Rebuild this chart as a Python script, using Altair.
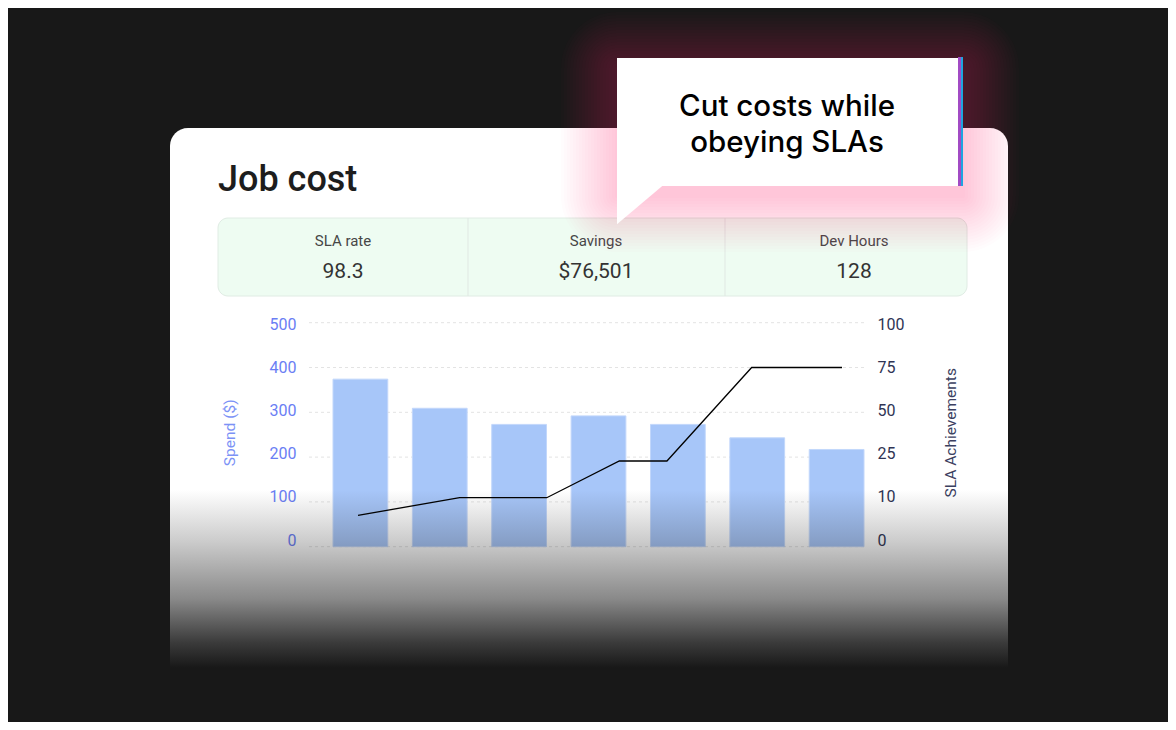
import altair as alt
import pandas as pd

# ---------------- data ----------------
periods = ["W1", "W2", "W3", "W4", "W5", "W6", "W7"]
spend = [374, 309, 273, 292, 273, 243, 217]
sla_pos = [0, 1.26, 2.34, 3.24, 3.83, 4.88, 6.0]
sla_values = [7, 11.4, 11.4, 23.7, 23.7, 75, 75]
spend_ticks = [0, 100, 200, 300, 400, 500]
sla_ticks = [0, 10, 25, 50, 75, 100]
kpi_labels = ["SLA rate", "Savings", "Dev Hours"]
kpi_values = ["98.3", "$76,501", "128"]
title_text = "Job cost"
callout_lines = ["Cut costs while", "obeying SLAs"]
spend_title = "Spend ($)"
sla_title = "SLA Achievements"

# ---------------- layout (card-relative pixels) ----------------
W, H = 838, 572
Y0, Y1 = 418.7, 194.7          # plotted bars / line range
L0, L1 = 412.0, 196.6          # where the axis labels sit
sla_range = [Y0 - (Y0 - Y1) * i / 5 for i in range(6)]
sla_label_range = [L0 - (L0 - L1) * i / 5 for i in range(6)]
kpi_x = [173, 426, 684]
divider_x = [298, 555]
glow_spread = list(range(2, 58, 3))

one = pd.DataFrame({"k": [0]})
bars_df = pd.DataFrame({"period": periods, "spend": spend})
line_df = pd.DataFrame({"pos": sla_pos, "sla": sla_values})
grid_df = pd.DataFrame({"v": spend_ticks})
sla_tick_df = pd.DataFrame({"v": sla_ticks})

left_scale = alt.Scale(domain=[0, 500], range=[Y0, Y1], nice=False)

layers = []

# title
layers.append(alt.Chart(one).mark_text(font="Roboto", fontSize=36, fontWeight=500, color="#1d1d1d",
                                        align="left", baseline="alphabetic").encode(
    x=alt.value(48), y=alt.value(63), text=alt.value(title_text)))

# KPI panel
layers.append(alt.Chart(one).mark_rect(fill="#eefcf2", stroke="#e0ece4", strokeWidth=1,
                                        cornerRadius=10).encode(
    x=alt.value(48), x2=alt.value(797), y=alt.value(90), y2=alt.value(168)))
for dx in divider_x:
    layers.append(alt.Chart(one).mark_rule(color="#e0e8e3", strokeWidth=1).encode(
        x=alt.value(dx), y=alt.value(90), y2=alt.value(168)))
for i in range(3):
    layers.append(alt.Chart(one).mark_text(font="Roboto", fontSize=15, color="#474747",
                                            align="center", baseline="alphabetic").encode(
        x=alt.value(kpi_x[i]), y=alt.value(118), text=alt.value(kpi_labels[i])))
    layers.append(alt.Chart(one).mark_text(font="Roboto", fontSize=21, color="#333333",
                                            align="center", baseline="alphabetic").encode(
        x=alt.value(kpi_x[i]), y=alt.value(150), text=alt.value(kpi_values[i])))

# pink glow behind the callout (stacked soft rectangles)
for e in glow_spread:
    layers.append(alt.Chart(one).mark_rect(fill="rgb(255,70,145)", fillOpacity=0.016,
                                            cornerRadius=e).encode(
        x=alt.value(447 - e), x2=alt.value(793 + e),
        y=alt.value(-70 - e + 10), y2=alt.value(58 + e + 10)))

# callout
layers.append(alt.Chart(one).mark_rect(fill="white").encode(
    x=alt.value(447), x2=alt.value(788), y=alt.value(-70), y2=alt.value(58)))
layers.append(alt.Chart(one).mark_point(shape="M-1,-0.85L0.96,-0.85L-1,0.8Z", filled=True,
                                         fill="white", opacity=1, strokeWidth=0, size=2304).encode(
    x=alt.value(471), y=alt.value(77)))
layers.append(alt.Chart(one).mark_rect(fill="#a24bc4").encode(
    x=alt.value(788), x2=alt.value(791), y=alt.value(-71), y2=alt.value(58)))
layers.append(alt.Chart(one).mark_rect(fill="#1fa4df").encode(
    x=alt.value(791), x2=alt.value(793), y=alt.value(-71), y2=alt.value(58)))
layers.append(alt.Chart(one).mark_text(font="Inter", fontSize=29.5, fontWeight=500,
                                        color="#000000", align="center", lineHeight=35.5,
                                        baseline="alphabetic").encode(
    x=alt.value(617), y=alt.value(-12), text=alt.value(callout_lines)))

# grid lines
layers.append(alt.Chart(grid_df).mark_rule(color="#e3e3e3", strokeDash=[3, 3], strokeWidth=1).encode(
    y=alt.Y("v:Q", scale=left_scale, axis=None),
    x=alt.value(139), x2=alt.value(694)))

# left axis carrier (invisible)
layers.append(alt.Chart(grid_df).mark_rule(opacity=0).encode(
    y=alt.Y("v:Q", scale=alt.Scale(domain=[0, 500], range=[L0, L1], nice=False),
            axis=alt.Axis(orient="left", values=spend_ticks, offset=-139, domain=False,
                          ticks=False, grid=False, labelPadding=13, labelColor="#6a7ef4",
                          labelFont="Roboto", labelFontSize=16, title=spend_title,
                          titleColor="#7c92f6", titleFont="Roboto", titleFontSize=15.5,
                          titleFontWeight="normal", titleX=-72, titleBaseline="bottom")),
    x=alt.value(139), x2=alt.value(140)))

# right axis carrier (invisible)
layers.append(alt.Chart(sla_tick_df).mark_rule(opacity=0).encode(
    y=alt.Y("v:Q", scale=alt.Scale(domain=sla_ticks, range=sla_label_range, nice=False),
            axis=alt.Axis(orient="right", values=sla_ticks, offset=-144, domain=False,
                          ticks=False, grid=False, labelPadding=13, labelColor="#2f3454",
                          labelFont="Roboto", labelFontSize=16, title=sla_title,
                          titleColor="#3b4060", titleFont="Roboto", titleFontSize=15.5,
                          titleFontWeight="normal", titleAngle=270, titleX=94,
                          titleBaseline="bottom")),
    x=alt.value(693), x2=alt.value(694)))

# bars
layers.append(alt.Chart(bars_df).mark_bar(color="#a7c6f9", stroke="#c2d7fb", strokeWidth=1).encode(
    x=alt.X("period:N", sort=None, axis=None,
            scale=alt.Scale(range=[163, 694], paddingInner=0.31, paddingOuter=0)),
    y=alt.Y("spend:Q", scale=left_scale, axis=None)))

# SLA line
layers.append(alt.Chart(line_df).mark_line(color="#000000", strokeWidth=1.3).encode(
    x=alt.X("pos:Q", axis=None, scale=alt.Scale(domain=[0, 6], range=[188, 672], nice=False)),
    y=alt.Y("sla:Q", axis=None,
            scale=alt.Scale(domain=sla_ticks, range=sla_range, nice=False))))

# bottom fade
fade = alt.LinearGradient(
    gradient="linear", x1=0, y1=0, x2=0, y2=1,
    stops=[alt.GradientStop(offset=0, color="rgba(24,24,24,0)"),
           alt.GradientStop(offset=0.223, color="rgba(24,24,24,0.22)"),
           alt.GradientStop(offset=0.477, color="rgba(24,24,24,0.51)"),
           alt.GradientStop(offset=0.67, color="rgba(24,24,24,0.85)"),
           alt.GradientStop(offset=0.78, color="rgba(24,24,24,1)"),
           alt.GradientStop(offset=1, color="rgba(24,24,24,1)")])
layers.append(alt.Chart(one).mark_rect(fill=fade).encode(
    x=alt.value(-2), x2=alt.value(840), y=alt.value(362), y2=alt.value(590)))

chart = alt.layer(*layers).resolve_scale(x="independent", y="independent").properties(
    width=W, height=H,
    padding={"left": 162, "top": 120, "right": 160, "bottom": 22},
    autosize=alt.AutoSizeParams(type="none"),
    background="#181818",
).configure_view(fill="white", strokeWidth=0, cornerRadius=18)

chart.save("out.html", embed_options={"renderer": "svg", "actions": False})
